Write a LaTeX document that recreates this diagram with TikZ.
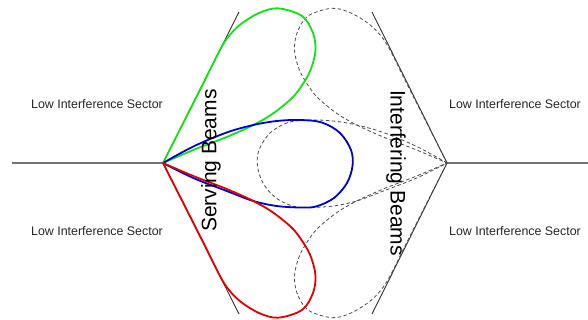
\documentclass[tikz,border=0pt]{standalone}
\usepackage{fontspec}
\setmainfont{Liberation Sans}
\begin{document}
\begin{tikzpicture}[x=1pt,y=-1pt,
  lobe/.style={line width=1.8pt,line join=round},
  intf/.style={draw=black!70,line width=0.8pt,dash pattern=on 3.5pt off 2.5pt},
  sector/.style={draw=black!80,line width=0.9pt},
  axis/.style={draw=black!55,line width=1.6pt},
  sectorlabel/.style={font=\fontsize{12.4}{14}\selectfont,text=black!85,inner sep=0pt},
  beamlabel/.style={font=\fontsize{21}{24}\selectfont,text=black,inner sep=0pt}]
\useasboundingbox (0,0) rectangle (588,320);
\coordinate (L) at (163,163);
\coordinate (R) at (447,163);
\coordinate (LW) at (12,163);
\coordinate (RE) at (588,163);
\coordinate (LU) at (239,12);
\coordinate (LD) at (239,314);
\coordinate (RU) at (372,12);
\coordinate (RD) at (372,314);
\def\greenpts{(163,163) (201,88) (220,50) (229,36) (241,24) (259,13) (278,8.3) (302,16) (313,33) (315.5,50) (312,66) (306,79) (293.3,96.7) (273.3,113.3) (253.3,125) (226.7,137) (193.3,150) (163,163)}
\def\bluepts{(163,163) (193.3,146.5) (226.7,132.5) (253.3,125) (276.7,121) (300,120) (322,122.5) (340,133) (351,150) (352.5,166) (347,183) (334,198) (316,206.5) (300,207.5) (276.7,206) (253.3,201) (226.7,191) (193.3,178) (163,163)}
\def\redpts{(163,163) (201,238) (220,276) (229,290) (241,302) (259,313) (278,317.7) (302,310) (313,293) (315.5,276) (312,260) (306,247) (293.3,229.3) (273.3,212.7) (253.3,201) (226.7,189) (193.3,176) (163,163)}
% axes
\draw[axis] (LW) -- (L);
\draw[axis] (R) -- (RE);
% sector lines
\draw[sector] (LU) -- (L) -- (LD);
\draw[sector] (RU) -- (R) -- (RD);
% interfering beams (mirror of serving beams)
\begin{scope}[shift={(610,0)},xscale=-1]
\draw[intf] plot[smooth,tension=0.55] coordinates {\greenpts};
\draw[intf] plot[smooth,tension=0.55] coordinates {\bluepts};
\draw[intf] plot[smooth,tension=0.55] coordinates {\redpts};
\end{scope}
% serving beams
\draw[lobe,draw={rgb,255:red,20;green,225;blue,20}] plot[smooth,tension=0.55] coordinates {\greenpts};
\draw[lobe,draw={rgb,255:red,0;green,0;blue,205}] plot[smooth,tension=0.55] coordinates {\bluepts};
\draw[lobe,draw={rgb,255:red,225;green,0;blue,0}] plot[smooth,tension=0.55] coordinates {\redpts};
% labels
\node[sectorlabel] (tl) at (97,104) {Low Interference Sector};
\node[sectorlabel] (bl) at (97,231) {Low Interference Sector};
\node[sectorlabel] (tr) at (515,104) {Low Interference Sector};
\node[sectorlabel] (br) at (515,231) {Low Interference Sector};
\node[beamlabel,rotate=90] (serv) at (211,160.5) {Serving Beams};
\node[beamlabel,rotate=-90] (intb) at (396,173) {Interfering Beams};
\end{tikzpicture}
\end{document}
